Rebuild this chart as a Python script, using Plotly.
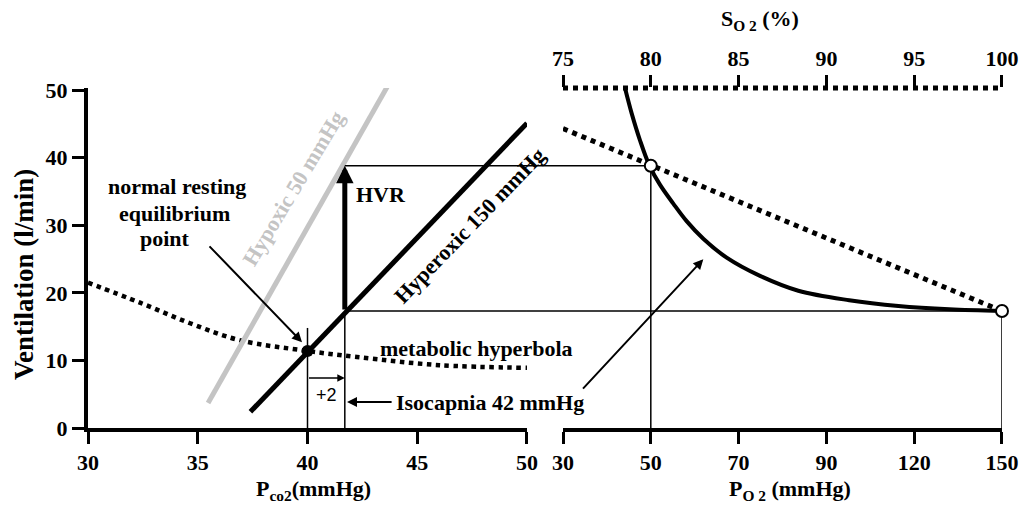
import plotly.graph_objects as go

# ---------------- data ----------------
# Left panel: PCO2 (mmHg) vs ventilation (l/min)
pco2_ticks = [30, 35, 40, 45, 50]
vent_ticks = [0, 10, 20, 30, 40, 50]

metab_pco2 = [30.0, 32.4, 34.65, 36.9, 40.0, 42.25, 46.0, 50.0]
metab_vent = [21.5, 18.5, 15.5, 13.0, 11.4, 10.5, 9.3, 8.9]

hyperoxic_pco2 = [37.4, 50.0]
hyperoxic_vent = [2.4, 45.1]

hypoxic_pco2 = [35.47, 43.67]
hypoxic_vent = [3.7, 50.7]

equil_pco2 = [40.0]
equil_vent = [11.4]

normal_pco2 = 40.0
isocapnia_pco2 = 41.7
hvr_low = 17.3
hvr_high = 38.8
normal_guide_top = 14.8

# Right panel: SO2 (%) axis, PO2 labels
so2_ticks = [75, 80, 85, 90, 95, 100]
so2_labels = ["75", "80", "85", "90", "95", "100"]
po2_labels = ["30", "50", "70", "90", "120", "150"]

dissoc_so2 = [78.53, 78.91, 79.38, 79.91, 80.52, 81.28, 82.04, 82.99, 84.32, 86.22,
              88.4, 91.3, 94.1, 97.0, 100.0]
dissoc_vent = [50.3, 46.55, 42.6, 38.9, 36.0, 33.2, 30.6, 28.0, 25.2, 22.5,
               20.3, 18.9, 18.05, 17.55, 17.3]

linear_so2 = [75, 100]
linear_vent = [44.3, 17.3]

circle_so2 = [80, 100]
circle_vent = [hvr_high, hvr_low]

# ---------------- layout constants ----------------
W, H = 1023, 508
ML, MR, MT, MB = 88, 21, 88, 80
LEFT_DOM = [0.0, 0.4803]
RIGHT_DOM = [0.5197, 1.0]
SERIF = "Liberation Serif"
BLACK = "#000000"
GRAY = "#c4c4c4"

fig = go.Figure()

def line(x, y, xa="x", width=1.5, color=BLACK, dash="solid", shape="linear"):
    fig.add_trace(go.Scatter(x=x, y=y, xaxis=xa, yaxis="y", mode="lines",
                             line=dict(color=color, width=width, dash=dash, shape=shape),
                             hoverinfo="skip", showlegend=False))

# ---- left panel ----
line(metab_pco2, metab_vent, width=4.5, dash="dot", shape="spline")
line(hypoxic_pco2, hypoxic_vent, width=5, color=GRAY)
line(hyperoxic_pco2, hyperoxic_vent, width=5)
line([normal_pco2, normal_pco2], [0, normal_guide_top])
line([isocapnia_pco2, isocapnia_pco2], [0, hvr_low])
line([isocapnia_pco2, pco2_ticks[-1]], [hvr_high, hvr_high])
line([isocapnia_pco2, pco2_ticks[-1]], [hvr_low, hvr_low])
fig.add_trace(go.Scatter(x=equil_pco2, y=equil_vent, xaxis="x", yaxis="y", mode="markers",
                         marker=dict(color=BLACK, size=12), cliponaxis=False,
                         hoverinfo="skip", showlegend=False))

# ---- right panel ----
line(linear_so2, linear_vent, xa="x2", width=5, dash="dot")
line(dissoc_so2, dissoc_vent, xa="x2", width=4, shape="spline")
line([so2_ticks[0], circle_so2[0]], [hvr_high, hvr_high], xa="x2")
line([so2_ticks[0], circle_so2[1]], [hvr_low, hvr_low], xa="x2")
line([circle_so2[0], circle_so2[0]], [0, hvr_high], xa="x2")
line([circle_so2[1], circle_so2[1]], [0, hvr_low], xa="x2")
fig.add_trace(go.Scatter(x=circle_so2, y=circle_vent, xaxis="x2", yaxis="y", mode="markers",
                         marker=dict(color="white", size=12, line=dict(color=BLACK, width=2)),
                         cliponaxis=False, hoverinfo="skip", showlegend=False))
# invisible trace so the top S_O2 axis is drawn
fig.add_trace(go.Scatter(x=so2_ticks, y=[None] * len(so2_ticks), xaxis="x3", yaxis="y",
                         mode="markers", hoverinfo="skip", showlegend=False))

# gap segments of the horizontal guide lines between the two panels
for v in (hvr_high, hvr_low):
    fig.add_shape(type="line", xref="paper", yref="y", x0=LEFT_DOM[1], x1=RIGHT_DOM[0],
                  y0=v, y1=v, line=dict(color=BLACK, width=1.5))
# dotted top axis line of the S_O2 scale
fig.add_shape(type="line", xref="x2 domain", yref="paper", x0=0, x1=1, y0=1, y1=1,
              line=dict(color=BLACK, width=5, dash="dot"))

# ---------------- annotations ----------------
def arrow(x, y, ax, ay, xa="x", width=1.5, size=1.0, head=2):
    fig.add_annotation(x=x, y=y, ax=ax, ay=ay, xref=xa, yref="y", axref=xa, ayref="y",
                       text="", showarrow=True, arrowhead=head, arrowsize=size,
                       arrowwidth=width, arrowcolor=BLACK, standoff=0, startstandoff=0)

arrow(isocapnia_pco2, hvr_high, isocapnia_pco2, hvr_low, width=5, size=0.7)
arrow(39.75, 12.7, 35.47, 27.1, width=2)
arrow(isocapnia_pco2, 7.4, normal_pco2, 7.4, width=1.5)
arrow(41.8, 3.85, 43.9, 3.85, width=2)
arrow(82.99, 24.96, 76.06, 5.6, xa="x2", width=2)

def label(text, x, y, xa="x", size=22, color=BLACK, angle=0, xanchor="center", bold=True,
          family=SERIF):
    fig.add_annotation(x=x, y=y, xref=xa, yref="y", text=("<b>%s</b>" % text) if bold else text,
                       showarrow=False, textangle=angle, xanchor=xanchor, yanchor="middle",
                       font=dict(family=family, size=size, color=color))

label("normal resting", 34.05, 35.8)
label("equilibrium", 33.92, 31.8)
label("point", 33.5, 28.1)
label("HVR", 43.35, 34.5)
label("Hypoxic 50 mmHg", 39.34, 35.5, color=GRAY, angle=-59)
label("Hyperoxic 150 mmHg", 47.4, 29.9, angle=-46)
label("metabolic hyperbola", 43.2, 11.7, xanchor="left")
label("+2", 40.85, 4.9, size=18, bold=False, family="Liberation Sans")
label("Isocapnia 42 mmHg", 43.95, 3.7, xanchor="left")

def ptitle(text, x, y, angle=0, size=22):
    fig.add_annotation(x=x, y=y, xref="paper", yref="paper", text="<b>%s</b>" % text,
                       showarrow=False, textangle=angle, xanchor="center", yanchor="middle",
                       font=dict(family=SERIF, size=size, color=BLACK))

ptitle("Ventilation (l/min)", -0.07, 0.45, angle=-90, size=27)
ptitle("P<sub>co</sub><sub>2</sub>(mmHg)", 0.247, -0.182)
ptitle("P<sub>O 2</sub> (mmHg)", 0.768, -0.182)
ptitle("S<sub>O 2</sub> (%)", 0.735, 1.2)

tickfont = dict(family=SERIF, size=22, color=BLACK, weight="bold")
axis_common = dict(showgrid=False, zeroline=False, ticks="outside", ticklen=12, tickwidth=3,
                   tickcolor=BLACK, tickfont=tickfont, automargin=False)

fig.update_layout(
    width=W, height=H, autosize=False,
    margin=dict(l=ML, r=MR, t=MT, b=MB, pad=0, autoexpand=False),
    paper_bgcolor="white", plot_bgcolor="white",
    showlegend=False,
    xaxis=dict(domain=LEFT_DOM, range=[pco2_ticks[0], pco2_ticks[-1]], anchor="y",
               tickvals=pco2_ticks, showline=True, linewidth=4, linecolor=BLACK, **axis_common),
    xaxis2=dict(domain=RIGHT_DOM, range=[so2_ticks[0], so2_ticks[-1]], anchor="y",
                tickvals=so2_ticks, ticktext=po2_labels, showline=True, linewidth=4,
                linecolor=BLACK, **axis_common),
    xaxis3=dict(overlaying="x2", side="top", anchor="y", range=[so2_ticks[0], so2_ticks[-1]],
                tickvals=so2_ticks, ticktext=so2_labels, showline=False, **axis_common),
    yaxis=dict(domain=[0, 1], range=[0, 50.3], anchor="x", tickvals=vent_ticks,
               showline=True, linewidth=4, linecolor=BLACK, **axis_common),
)

fig.write_html("out.html", config={"displayModeBar": False, "responsive": False},
               post_script="document.body.style.margin='0px';document.body.style.overflow='hidden';")
